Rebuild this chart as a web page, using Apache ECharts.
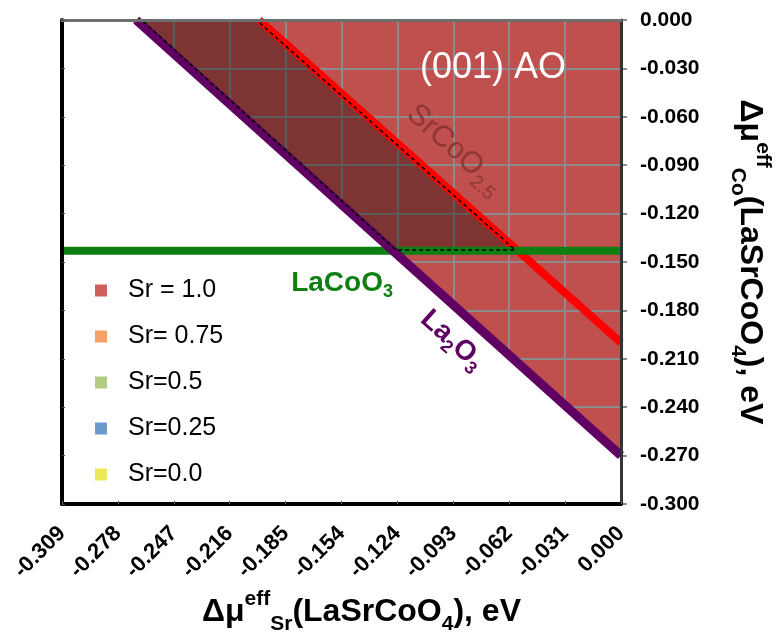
<!DOCTYPE html>
<html><head><meta charset="utf-8">
<script src="https://cdn.jsdelivr.net/npm/echarts@6/dist/echarts.min.js"></script>
<style>html,body{margin:0;padding:0;background:#fff}#c{width:778px;height:634px}</style>
</head><body><div id="c"></div><script>
// ---- data ----
const xTickLabels = ['-0.309','-0.278','-0.247','-0.216','-0.185','-0.154','-0.124','-0.093','-0.062','-0.031','0.000'];
const yTickLabels = ['0.000','-0.030','-0.060','-0.090','-0.120','-0.150','-0.180','-0.210','-0.240','-0.270','-0.300'];
const xMin = -0.309, xMax = 0, xStep = 0.0309;
const yMin = -0.3, yMax = 0, yStep = 0.03;

const la2o3Line   = [[-0.268, 0], [0, -0.27]];
const srcoo25Line = [[-0.2, 0], [0, -0.2]];
const lacoo3Line  = [[-0.309, -0.143], [0, -0.143]];
const sr10Region   = [[-0.268, 0], [0, 0], [0, -0.27]];
const emptyRegion  = [[-0.309, 0], [-0.268, 0], [0, -0.27], [0, -0.3], [-0.309, -0.3]];
const stableRegion = [[-0.265, 0], [-0.2015, 0], [-0.0585, -0.1425], [-0.1245, -0.1425]];
const legendNames  = ['Sr = 1.0', 'Sr= 0.75', 'Sr=0.5', 'Sr=0.25', 'Sr=0.0'];
const aoLabelPos     = [-0.0708, -0.0295];
const srcooLabelPos  = [-0.0918, -0.0802];
const la2o3LabelPos  = [-0.0934, -0.1985];
const lacoo3LabelPos = [-0.1542, -0.1635];

// ---- styles ----
const FONT = "'Liberation Sans', Arial, sans-serif";
const legendColors = ['#D0605E', '#F5A064', '#B2CC84', '#6C9BCB', '#ECE85A'];

function polygon(name, pts, style, z) {
  return {
    type: 'custom', name, z, silent: true, clip: true,
    xAxisIndex: 0, yAxisIndex: 0,
    data: [[pts[0][0], pts[0][1]]],
    renderItem: (params, api) => ({
      type: 'polygon',
      shape: { points: pts.map(p => api.coord(p)) },
      style: style
    })
  };
}
function line(name, pts, color, width, z) {
  return {
    type: 'line', name, z, silent: true, symbol: 'none',
    xAxisIndex: 0, yAxisIndex: 0,
    data: pts,
    lineStyle: { color, width, cap: 'butt' }
  };
}
function textMark(pos, text, rich, rotate, z) {
  return {
    type: 'scatter', z, silent: true, symbolSize: 1, itemStyle: { color: 'rgba(0,0,0,0)', opacity: 1 },
    xAxisIndex: 0, yAxisIndex: 0,
    data: [pos],
    label: { show: true, position: 'inside', formatter: text, rotate: rotate, rich: rich, opacity: 1 }
  };
}

const richAxis = {
  b:   { fontSize: 32, fontWeight: 'bold', fontFamily: FONT, color: '#000', lineHeight: 46 },
  sup: { fontSize: 21, fontWeight: 'bold', fontFamily: FONT, color: '#000', verticalAlign: 'top', lineHeight: 22 },
  sub: { fontSize: 21, fontWeight: 'bold', fontFamily: FONT, color: '#000', verticalAlign: 'bottom', lineHeight: 22 }
};

const series = [
  polygon('Sr = 1.0', sr10Region, { fill: '#C0504D' }, 2),
  polygon('empty', emptyRegion, { fill: '#FFFFFF' }, 4),
  polygon('stable', stableRegion, { fill: 'rgba(0,0,0,0.34)' }, 5),
  line('SrCoO2.5', srcoo25Line, '#FF0000', 8, 6),
  line('LaCoO3', lacoo3Line, '#0E7F10', 8, 6),
  line('La2O3', la2o3Line, '#600062', 9, 6),
  polygon('outline', stableRegion, { fill: 'none', stroke: '#000', lineWidth: 1.5, lineDash: [4, 3] }, 7),
  textMark(aoLabelPos, '{a|(001) AO}', {
    a: { fontSize: 36, fontFamily: FONT, color: '#FFFFFF' }
  }, 0, 8),
  textMark(srcooLabelPos, '{a|SrCoO}{s|2.5}', {
    a: { fontSize: 30, fontFamily: FONT, color: '#8E3735', lineHeight: 40 },
    s: { fontSize: 19, fontFamily: FONT, color: '#8E3735', verticalAlign: 'bottom', lineHeight: 20 }
  }, -42, 8),
  textMark(la2o3LabelPos, '{a|La}{s|2}{a|O}{s|3}', {
    a: { fontSize: 28, fontWeight: 'bold', fontFamily: FONT, color: '#600062', lineHeight: 36 },
    s: { fontSize: 18, fontWeight: 'bold', fontFamily: FONT, color: '#600062', verticalAlign: 'bottom', lineHeight: 18 }
  }, -42, 8),
  textMark(lacoo3LabelPos, '{a|LaCoO}{s|3}', {
    a: { fontSize: 28, fontWeight: 'bold', fontFamily: FONT, color: '#0E7F10', lineHeight: 34 },
    s: { fontSize: 18, fontWeight: 'bold', fontFamily: FONT, color: '#0E7F10', verticalAlign: 'bottom', lineHeight: 18 }
  }, 0, 8)
];
// empty series for the remaining legend entries
legendNames.slice(1).forEach(n => series.push({ type: 'line', name: n, data: [], xAxisIndex: 0, yAxisIndex: 0 }));

const option = {
  animation: false,
  backgroundColor: '#fff',
  grid: { left: 62, right: 157, top: 20, bottom: 130, containLabel: false, outerBoundsMode: 'none' },
  legend: {
    show: true, z: 20,
    orient: 'vertical', left: 90, top: 273, itemWidth: 12, itemHeight: 12, itemGap: 21,
    icon: 'rect', selectedMode: false,
    data: legendNames.map((n, i) => ({ name: n, itemStyle: { color: legendColors[i] } })),
    textStyle: { fontSize: 25, fontFamily: FONT, color: '#000', lineHeight: 25, padding: [0, 0, 0, 16] }
  },
  xAxis: [
    { type: 'value', min: xMin, max: xMax, interval: xStep, position: 'bottom', z: 3,
      axisLine: { show: false, onZero: false }, axisTick: { show: false },
      splitLine: { show: true, lineStyle: { color: '#8C8C8C', width: 2 } },
      axisLabel: { rotate: 45, margin: 26, fontSize: 22, fontWeight: 'bold', fontFamily: FONT, color: '#000',
        formatter: v => xTickLabels[Math.round((v - xMin) / xStep)] },
      name: '{b|Δμ}{sup|eff}{sub|Sr}{b|(LaSrCoO}{sub|4}{b|), eV}', nameLocation: 'middle', nameGap: 82,
      nameTextStyle: { rich: richAxis, padding: [0, 0, 0, 40] }
    },
    { type: 'value', min: xMin, max: xMax, interval: xStep, position: 'bottom', z: 10,
      axisLine: { show: true, onZero: false, lineStyle: { color: '#000', width: 4 } },
      axisTick: { show: true, inside: true, length: 3, lineStyle: { color: '#666' } },
      axisLabel: { show: false }, splitLine: { show: false } },
    { type: 'value', min: xMin, max: xMax, interval: xStep, position: 'top', z: 10,
      axisLine: { show: true, onZero: false, lineStyle: { color: '#6E6E6E', width: 3 } },
      axisTick: { show: false }, axisLabel: { show: false }, splitLine: { show: false } }
  ],
  yAxis: [
    { type: 'value', min: yMin, max: yMax, interval: yStep, position: 'right', z: 3,
      axisLine: { show: false, onZero: false },
      axisTick: { show: true, length: 6, lineStyle: { color: '#8C8C8C', width: 2 } },
      splitLine: { show: true, lineStyle: { color: '#8C8C8C', width: 2 } },
      axisLabel: { margin: 19, fontSize: 21, fontWeight: 'bold', fontFamily: FONT, color: '#000',
        formatter: v => yTickLabels[Math.round((yMax - v) / yStep)] },
      name: '{b|Δμ}{sup|eff}{sub|Co}{b|(LaSrCoO}{sub|4}{b|), eV}', nameLocation: 'middle', nameGap: 106, nameRotate: -90,
      nameTextStyle: { rich: richAxis }
    },
    { type: 'value', min: yMin, max: yMax, interval: yStep, position: 'right', z: 10,
      axisLine: { show: true, onZero: false, lineStyle: { color: '#333', width: 3 } },
      axisTick: { show: false }, axisLabel: { show: false }, splitLine: { show: false } },
    { type: 'value', min: yMin, max: yMax, interval: yStep, position: 'left', z: 10,
      axisLine: { show: true, onZero: false, lineStyle: { color: '#000', width: 4 } },
      axisTick: { show: true, inside: true, length: 3, lineStyle: { color: '#444' } },
      axisLabel: { show: false }, splitLine: { show: false } }
  ],
  series: series
};
const chart = echarts.init(document.getElementById('c'), null, { renderer: 'canvas' });
chart.setOption(option);
</script></body></html>
